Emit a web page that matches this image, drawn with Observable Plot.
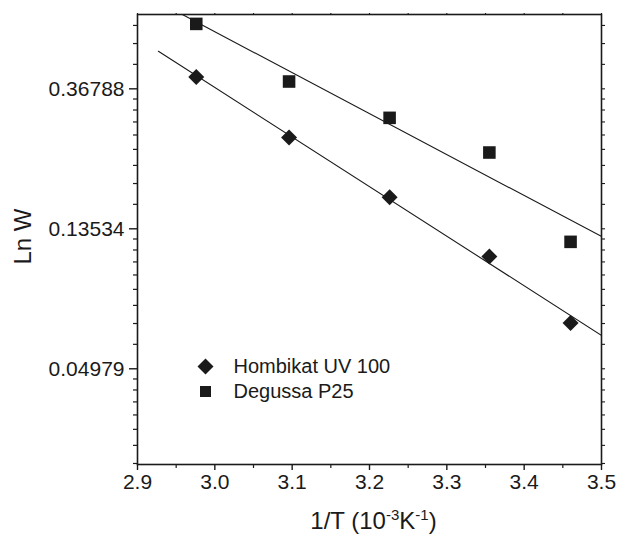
<!DOCTYPE html>
<html>
<head>
<meta charset="utf-8">
<script src="https://cdn.jsdelivr.net/npm/d3@7"></script>
<script src="https://cdn.jsdelivr.net/npm/@observablehq/plot@0.6"></script>
<style>
  html, body { margin: 0; padding: 0; background: #fff; }
  #chart { width: 617px; height: 536px; }
</style>
</head>
<body>
<div id="chart"></div>
<script>
// ---- data ----
const invT = [2.976, 3.096, 3.226, 3.355, 3.460];          // 1/T (10^-3 K^-1)
const hombikat = [0.400, 0.260, 0.1696, 0.111, 0.0690];     // W, Hombikat UV 100
const degussa = [0.585, 0.3876, 0.299, 0.2334, 0.1233];     // W, Degussa P25
const hombikatFitX = [2.927, 3.5];
const hombikatFitY = [0.4812, 0.0632];
const degussaFitX = [2.958, 3.5];
const degussaFitY = [0.6256, 0.1281];
const seriesNames = ["Hombikat UV 100", "Degussa P25"];

const xTicks = [2.9, 3.0, 3.1, 3.2, 3.3, 3.4, 3.5];
const xMinorTicks = [2.95, 3.05, 3.15, 3.25, 3.35, 3.45];
const yTicks = [0.36788, 0.13534, 0.04979];
const yTickLabels = ["0.36788", "0.13534", "0.04979"];
const yPowers = [1, 0.36788, 0.13534, 0.04979, 0.01832];
const xTitle = "1/T (10-3K-1)";
const yTitle = "Ln W";

const xDomain = [2.9, 3.5];
const yDomain = [0.02513, 0.6256];

// minor ticks of the ln axis: 8 evenly spaced values between successive powers of e
const yMinor = [];
for (let i = 0; i < yPowers.length - 1; i++) {
  const a = yPowers[i], b = yPowers[i + 1];
  for (let k = 1; k < 9; k++) {
    const v = a - (a - b) * k / 9;
    if (v > yDomain[0] && v < yDomain[1]) yMinor.push(v);
  }
}

const pts = [
  ...invT.map((x, i) => ({x, y: hombikat[i], s: seriesNames[0]})),
  ...invT.map((x, i) => ({x, y: degussa[i], s: seriesNames[1]}))
];
const fits = [
  ...hombikatFitX.map((x, i) => ({x, y: hombikatFitY[i], s: seriesNames[0]})),
  ...degussaFitX.map((x, i) => ({x, y: degussaFitY[i], s: seriesNames[1]}))
];

const ink = "#1a1a1a";
const font = "'Liberation Sans', Arial, sans-serif";

const chart = Plot.plot({
  width: 617,
  height: 536,
  marginLeft: 137,
  marginRight: 16,
  marginTop: 14,
  marginBottom: 72,
  style: {fontFamily: font, fontSize: "21px", color: ink, background: "#fff"},
  x: {domain: xDomain},
  y: {type: "log", domain: yDomain},
  marks: [
    // fitted lines
    Plot.line(fits, {x: "x", y: "y", z: "s", stroke: ink, strokeWidth: 1.1, clip: true}),
    // points
    Plot.dot(pts.filter(d => d.s === seriesNames[0]), {x: "x", y: "y", symbol: "diamond2", r: 7.2, fill: ink, stroke: "none"}),
    Plot.dot(pts.filter(d => d.s === seriesNames[1]), {x: "x", y: "y", symbol: "square2", r: 8, fill: ink, stroke: "none"}),
    // frame
    Plot.frame({stroke: ink, strokeWidth: 1.6}),
    // left axis
    Plot.axisY(yTicks, {anchor: "left", tickSize: 8, tickPadding: 5, strokeWidth: 1.4, stroke: ink, fill: ink,
      tickFormat: d => yTickLabels[yTicks.indexOf(d)], label: null, fontSize: 21}),
    Plot.axisY(yMinor, {anchor: "left", tickSize: 4, strokeWidth: 1.2, stroke: ink, tickFormat: () => "", label: null}),
    // right axis (ticks only)
    Plot.axisY([...yTicks, ...yMinor], {anchor: "right", tickSize: 3, strokeWidth: 1.1, stroke: ink, tickFormat: () => "", label: null}),
    // bottom axis
    Plot.axisX(xTicks, {anchor: "bottom", tickSize: 6, tickPadding: 4, strokeWidth: 1.4, stroke: ink, fill: ink,
      tickFormat: d3.format(".1f"), label: null, fontSize: 21}),
    Plot.axisX(xMinorTicks, {anchor: "bottom", tickSize: 4, strokeWidth: 1.2, stroke: ink, tickFormat: () => "", label: null}),
    // top axis (ticks only)
    Plot.axisX([...xTicks, ...xMinorTicks], {anchor: "top", tickSize: 2, strokeWidth: 1.1, stroke: ink, tickFormat: () => "", label: null}),
    // axis titles
    Plot.text([xTitle], {frameAnchor: "bottom", dx: 4, dy: 57, lineAnchor: "middle", textAnchor: "middle", fontSize: 24, fill: ink}),
    Plot.text([yTitle], {frameAnchor: "left", dx: -114, dy: -3, rotate: -90, lineAnchor: "middle", textAnchor: "middle", fontSize: 24, fill: ink}),
    // legend
    Plot.dot([seriesNames[0]], {frameAnchor: "top-left", dx: 68, dy: 352, symbol: "diamond2", r: 7.2, fill: ink}),
    Plot.dot([seriesNames[1]], {frameAnchor: "top-left", dx: 68, dy: 377, symbol: "square2", r: 7, fill: ink}),
    Plot.text([seriesNames[0]], {frameAnchor: "top-left", dx: 96, dy: 352, text: d => d, textAnchor: "start", lineAnchor: "middle", fontSize: 20, fill: ink}),
    Plot.text([seriesNames[1]], {frameAnchor: "top-left", dx: 96, dy: 377, text: d => d, textAnchor: "start", lineAnchor: "middle", fontSize: 20, fill: ink})
  ]
});

// render the superscripts of the x-axis title as real tspans
d3.select(chart).selectAll("text").filter(function() { return this.textContent === xTitle; })
  .each(function() {
    const t = d3.select(this);
    t.text(null);
    t.append("tspan").text("1/T (10");
    t.append("tspan").attr("dy", -9).attr("font-size", 15).text("-3");
    t.append("tspan").attr("dy", 9).text("K");
    t.append("tspan").attr("dy", -9).attr("font-size", 15).text("-1");
    t.append("tspan").attr("dy", 9).text(")");
  });

document.getElementById("chart").appendChild(chart);
</script>
</body>
</html>
